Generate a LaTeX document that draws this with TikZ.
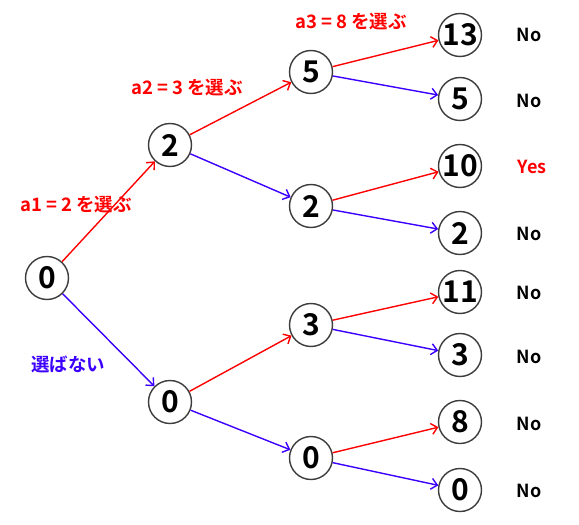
\documentclass[tikz,border=0pt]{standalone}
\usepackage{fontspec}
\setmainfont{Noto Sans CJK JP}[BoldFont={* Bold}]
\usetikzlibrary{arrows.meta}
\definecolor{cred}{RGB}{255,0,0}
\definecolor{cblue}{RGB}{60,0,255}
\definecolor{cgray}{RGB}{60,60,60}
\tikzset{
  val/.style={circle,draw=cgray,line width=1.4pt,minimum size=43pt,inner sep=0pt,font=\fontsize{30}{30}\selectfont\bfseries},
  ans/.style={font=\fontsize{18}{18}\selectfont\bfseries},
  lab/.style={font=\fontsize{18.5}{18.5}\selectfont\bfseries},
  take/.style={draw=cred,line width=1.4pt,-{Straight Barb[length=6pt,width=11pt,line width=1.4pt]}},
  skip/.style={draw=cblue,line width=1.4pt,-{Straight Barb[length=6pt,width=11pt,line width=1.4pt]}},
}
\begin{document}
\begin{tikzpicture}[x=1pt,y=-1pt]
\useasboundingbox (0,0) rectangle (579,525);
\node[val] (r) at (47,278) {0};
\node[val] (a) at (170,145) {2};
\node[val] (b) at (170,402) {0};
\node[val] (aa) at (311,72) {5};
\node[val] (ab) at (311,206) {2};
\node[val] (ba) at (311,325) {3};
\node[val] (bb) at (311,458) {0};
\node[val] (l1) at (460,35) {13};
\node[val] (l2) at (460,99) {5};
\node[val] (l3) at (460,166) {10};
\node[val] (l4) at (460,233) {2};
\node[val] (l5) at (460,292) {11};
\node[val] (l6) at (460,355) {3};
\node[val] (l7) at (460,422) {8};
\node[val] (l8) at (460,490) {0};
\node[ans] (n1) at (529,35) {No};
\node[ans] (n2) at (529,101) {No};
\node[ans,text=cred] (n3) at (532,167) {Yes};
\node[ans] (n4) at (529,234) {No};
\node[ans] (n5) at (529,293) {No};
\node[ans] (n6) at (529,357) {No};
\node[ans] (n7) at (529,424) {No};
\node[ans] (n8) at (529,491) {No};
\node[lab,text=cred] (t1) at (76,205) {a1 = 2 を選ぶ};
\node[lab,text=cred] (t2) at (187,88) {a2 = 3 を選ぶ};
\node[lab,text=cred] (t3) at (351,22) {a3 = 8 を選ぶ};
\node[lab,text=cblue] (t4) at (68,364) {選ばない};
\draw[take] (r) -- (a);
\draw[skip] (r) -- (b);
\draw[take] (a) -- (aa);
\draw[skip] (a) -- (ab);
\draw[take] (b) -- (ba);
\draw[skip] (b) -- (bb);
\draw[take] (aa) -- (l1);
\draw[skip] (aa) -- (l2);
\draw[take] (ab) -- (l3);
\draw[skip] (ab) -- (l4);
\draw[take] (ba) -- (l5);
\draw[skip] (ba) -- (l6);
\draw[take] (bb) -- (l7);
\draw[skip] (bb) -- (l8);
\end{tikzpicture}
\end{document}
